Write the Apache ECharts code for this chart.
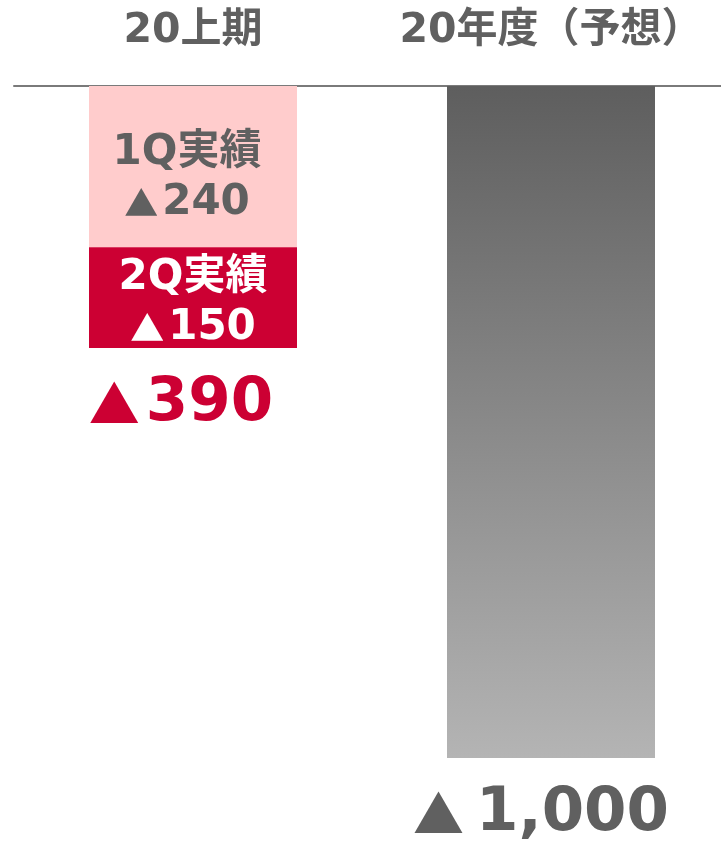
<!DOCTYPE html>
<html>
<head>
<meta charset="utf-8">
<script src="https://cdn.jsdelivr.net/npm/echarts@6/dist/echarts.min.js"></script>
<style>
html,body{margin:0;padding:0;background:#fff;}
#c{width:721px;height:844px;}
</style>
</head>
<body>
<div id="c"></div>
<script>
var categories = ['20上期', '20年度（予想）'];
var q1Values = [240, null];
var q2Values = [150, null];
var forecastValues = [null, 1000];
var totalValues = [390, 1000];

var FONT = '"DejaVu Sans", "Noto Sans CJK JP", sans-serif';
var CJK = '"Noto Sans CJK JP", sans-serif';
var chart = echarts.init(document.getElementById('c'));

function num(v){ return v.toLocaleString('en-US'); }
function innerRich(color){
  return {
    n: { color: color, fontSize: 42, fontWeight: 'bold', fontFamily: FONT, lineHeight: 50 },
    t: { color: color, fontSize: 34, fontWeight: 'bold', fontFamily: CJK, lineHeight: 50, padding: [0, 4, 0, 0] }
  };
}
function innerFmt(p){ return '{n|' + p.seriesName + '}\n{t|▲}{n|' + num(p.value) + '}'; }

chart.setOption({
  animation: false,
  grid: { left: 14, width: 716, top: 86, height: 672, outerBoundsMode: 'none', containLabel: false },
  xAxis: {
    type: 'category',
    position: 'top',
    data: categories,
    axisLine: { lineStyle: { color: '#7a7a7a', width: 2 } },
    axisTick: { show: false },
    axisLabel: { color: '#606060', fontSize: 41, fontWeight: 'bold', fontFamily: FONT, margin: 34,
      interval: 0, showMaxLabel: true, showMinLabel: true, hideOverlap: false }
  },
  yAxis: {
    type: 'value', inverse: true, min: 0, max: 1000,
    show: false, splitLine: { show: false }
  },
  series: [
    {
      name: '1Q実績', type: 'bar', stack: 'a', barWidth: 208, data: q1Values,
      itemStyle: { color: '#FFCCCC' },
      label: { show: true, position: 'inside', offset: [-6, 11], formatter: innerFmt, rich: innerRich('#606060') }
    },
    {
      name: '2Q実績', type: 'bar', stack: 'a', barWidth: 208, data: q2Values,
      itemStyle: { color: '#CC0033' },
      label: { show: true, position: 'inside', offset: [0, 5], formatter: innerFmt, rich: innerRich('#ffffff') }
    },
    {
      name: '20年度', type: 'bar', stack: 'a', barWidth: 208, data: forecastValues,
      itemStyle: { color: new echarts.graphic.LinearGradient(0, 0, 0, 1, [
        { offset: 0, color: '#5e5e5e' }, { offset: 1, color: '#b4b4b4' }]) }
    },
    {
      name: '合計', type: 'scatter', symbolSize: 0, silent: true,
      itemStyle: { opacity: 1 },
      data: totalValues.map(function(v, i){
        var c = i === 0 ? '#CC0033' : '#606060';
        return { value: v, label: { offset: [i === 0 ? -12 : -10, 0], rich: {
          t: { color: c, fontSize: 51, fontWeight: 'bold', fontFamily: CJK, padding: [0, i === 0 ? 6 : 12, 0, 0] },
          n: { color: c, fontSize: 61, fontWeight: 'bold', fontFamily: FONT }
        } } };
      }),
      label: { show: true, position: 'bottom', distance: 26, formatter: function(p){ return '{t|▲}{n|' + num(p.value) + '}'; } }
    }
  ]
});
</script>
</body>
</html>
